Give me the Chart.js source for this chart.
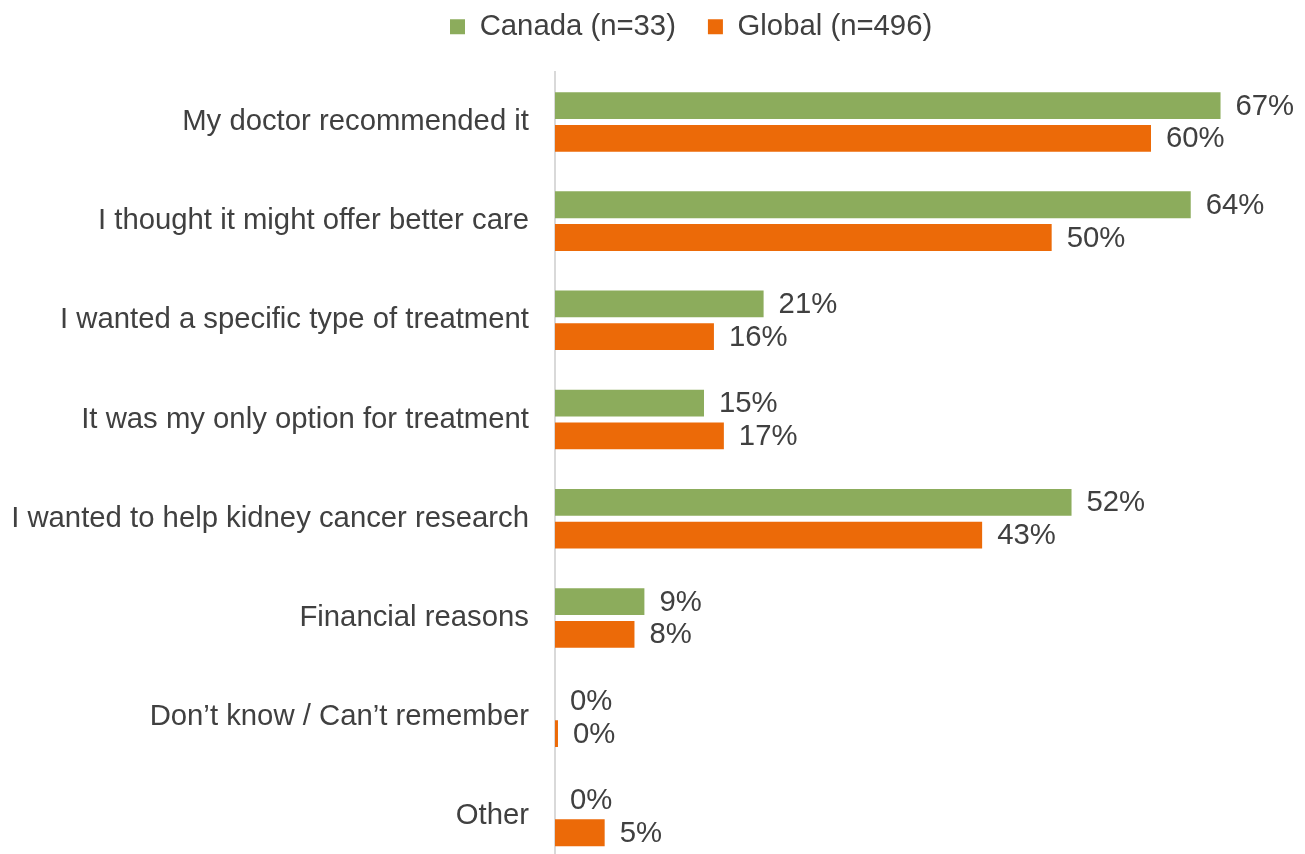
<!DOCTYPE html>
<html>
<head>
<meta charset="utf-8">
<script src="https://cdn.jsdelivr.net/npm/chart.js@4"></script>
<style>
  html, body { margin: 0; padding: 0; background: #fff; overflow: hidden; }
  canvas { display: block; }
</style>
</head>
<body>
<!-- taller than the window: the last row runs past the bottom edge -->
<canvas id="reasonsChart" width="1305" height="866"></canvas>
<script>
const categories = [
  'My doctor recommended it',
  'I thought it might offer better care',
  'I wanted a specific type of treatment',
  'It was my only option for treatment',
  'I wanted to help kidney cancer research',
  'Financial reasons',
  'Don\u2019t know / Can\u2019t remember',
  'Other'
];
const seriesNames = ['Canada (n=33)', 'Global (n=496)'];
const canada = [67, 64, 21, 15, 52, 9, 0, 0];
const global = [60, 50, 16, 17, 43, 8, 0.3, 5];

const FONT = '"Liberation Sans", Arial, sans-serif';
const SIZE = 29.3;
const TEXT = '#404040';

// percentage labels to the right of each bar
const valueLabels = {
  id: 'valueLabels',
  afterDatasetsDraw(chart) {
    const ctx = chart.ctx;
    ctx.save();
    ctx.font = SIZE + 'px ' + FONT;
    ctx.fillStyle = TEXT;
    ctx.textAlign = 'left';
    ctx.textBaseline = 'middle';
    chart.data.datasets.forEach((ds, i) => {
      chart.getDatasetMeta(i).data.forEach((bar, j) => {
        ctx.fillText(Math.round(ds.data[j]) + '%', bar.x + 15, bar.y + 1);
      });
    });
    ctx.restore();
  }
};

// put the legend where it sits above the plot
const legendPlace = {
  id: 'legendPlace',
  afterLayout(chart) {
    const lg = chart.legend;
    if (!lg) return;
    const dx = 418 - lg.left, dy = -20 - lg.top;
    lg.left += dx; lg.right += dx;
    lg.top += dy; lg.bottom += dy;
  }
};

new Chart(document.getElementById('reasonsChart'), {
  type: 'bar',
  data: {
    labels: categories,
    datasets: [
      { label: seriesNames[0], data: canada, backgroundColor: '#8CAC5C', borderWidth: 0 },
      { label: seriesNames[1], data: global, backgroundColor: '#EC6A08', borderWidth: 0 }
    ]
  },
  options: {
    indexAxis: 'y',
    responsive: false,
    animation: false,
    layout: { padding: { top: 1, right: 5, bottom: 0, left: 0 } },
    datasets: { bar: { categoryPercentage: 0.66, barPercentage: 0.818 } },
    scales: {
      x: { display: false, min: 0, max: 75 },
      y: {
        grid: { display: false, drawTicks: false },
        border: { display: true, color: '#d9d9d9', width: 2 },
        ticks: { font: { family: FONT, size: SIZE }, color: TEXT, padding: 26, autoSkip: false },
        afterFit(scale) {
          scale.width = 555;
          scale.paddingTop = 0;
          scale.paddingBottom = 0;
        }
      }
    },
    plugins: {
      legend: {
        position: 'top',
        align: 'start',
        labels: { font: { family: FONT, size: SIZE }, color: TEXT, boxWidth: 15, boxHeight: 15, padding: 32 }
      },
      tooltip: { enabled: false }
    }
  },
  plugins: [valueLabels, legendPlace]
});
</script>
</body>
</html>
